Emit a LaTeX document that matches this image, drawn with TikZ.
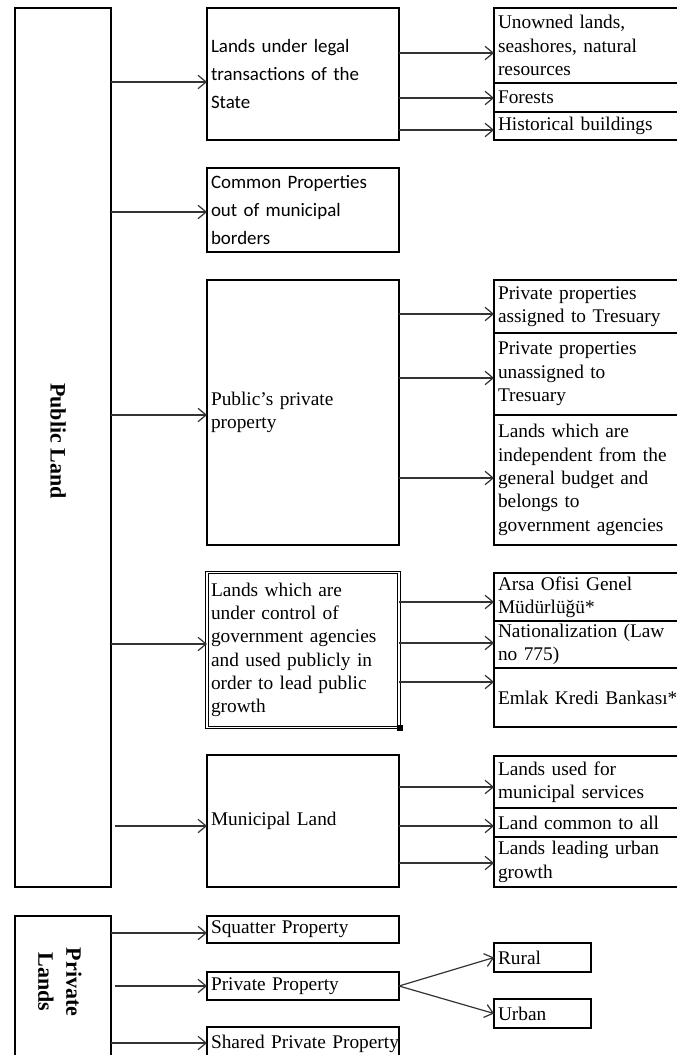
\documentclass[tikz,border=0pt]{standalone}
\usepackage{fontspec}
\setmainfont{Liberation Serif}
\newfontfamily\calibrifont{Carlito}
\usetikzlibrary{arrows.meta, positioning}

\begin{document}
\begin{tikzpicture}[
    x=0.75pt, y=-0.75pt,
    box/.style={
        rectangle, draw=black, line width=1.1pt, outer sep=0pt,
        inner xsep=3pt, inner ysep=1pt, align=left,
        font=\fontsize{14.5}{17.5}\selectfont
    },
    midbox/.style={box, text width=138pt},
    subbox/.style={box, text width=144pt},
    smallbox/.style={box, text width=66.75pt},
    sansbox/.style={midbox, font=\fontsize{14.2}{21}\selectfont\calibrifont},
    dblbox/.style={midbox, double, line width=0.6pt, double distance=1.2pt},
    sidelabel/.style={rotate=-90, align=center, font=\fontsize{16.5}{21}\selectfont\bfseries},
    arrow/.style={-{Straight Barb[length=6pt, width=10pt]}, line width=0.9pt, draw=black!80}
]
\useasboundingbox (0,0) rectangle (677,1055);
\clip (0,0) rectangle (677,1055);

% Public land column
\node[box, minimum width=72pt, minimum height=659.25pt, anchor=north west] (pub) at (15,8) {};
\node[sidelabel] (publbl) at (58,441) {Public Land};

\node[sansbox, minimum height=99pt, anchor=north west] (legal) at (207,8) {Lands under legal\\transactions of the\\State};
\node[sansbox, minimum height=63pt, anchor=north west] (common) at (207,168) {Common Properties\\out of municipal\\borders};
\node[midbox, minimum height=198.75pt, anchor=north west] (pubpriv) at (207,280) {Public's private\\property};
\node[dblbox, minimum height=116.25pt, anchor=north west] (gov) at (207,572.5) {Lands which are\\under control of\\government agencies\\and used publicly in\\order to lead public\\growth};
\node[midbox, minimum height=99pt, anchor=north west] (muni) at (207,755) {Municipal Land};
\fill (397,725) rectangle (403,731);

\draw[arrow] (pub.east |- 0,82) -- (legal.west |- 0,82);
\draw[arrow] (pub.east |- 0,212) -- (common.west |- 0,212);
\draw[arrow] (pub.east |- 0,415) -- (pubpriv.west |- 0,415);
\draw[arrow] (pub.east |- 0,644) -- (gov.west |- 0,644);
\draw[arrow, shorten <=3pt] (pub.east |- 0,826) -- (muni.west |- 0,826);

% Sub categories
\node[subbox, minimum height=56.25pt, anchor=north west] (unowned) at (494,8) {Unowned lands,\\seashores, natural\\resources};
\node[subbox, minimum height=21.75pt, below=0pt of unowned] (forests) {Forests};
\node[subbox, minimum height=21pt, below=0pt of forests] (hist) {Historical buildings};

\draw[arrow] (legal.east |- 0,53) -- (unowned.west |- 0,53);
\draw[arrow] (legal.east |- 0,98) -- (forests.west |- 0,98);
\draw[arrow] (legal.east |- 0,130) -- (hist.west |- 0,130);

\node[subbox, minimum height=39.75pt, anchor=north west] (assigned) at (494,280) {Private properties\\assigned to Tresuary};
\node[subbox, minimum height=61.5pt, below=0pt of assigned] (unassigned) {Private properties\\unassigned to\\Tresuary};
\node[subbox, minimum height=97.5pt, below=0pt of unassigned] (indep) {Lands which are\\independent from the\\general budget and\\belongs to\\government agencies};

\draw[arrow] (pubpriv.east |- 0,314) -- (assigned.west |- 0,314);
\draw[arrow] (pubpriv.east |- 0,378) -- (unassigned.west |- 0,378);
\draw[arrow] (pubpriv.east |- 0,478) -- (indep.west |- 0,478);

\node[subbox, minimum height=36pt, anchor=north west] (arsa) at (494,573) {Arsa Ofisi Genel\\Müdürlüğü*};
\node[subbox, minimum height=35.25pt, below=0pt of arsa] (nation) {Nationalization (Law\\no 775)};
\node[subbox, minimum height=44.25pt, below=0pt of nation] (emlak) {Emlak Kredi Bankası**};

\draw[arrow] (gov.east |- 0,602) -- (arsa.west |- 0,602);
\draw[arrow] (gov.east |- 0,643) -- (nation.west |- 0,643);
\draw[arrow] (gov.east |- 0,682) -- (emlak.west |- 0,682);

\node[subbox, minimum height=39pt, anchor=north west] (services) at (494,756) {Lands used for\\municipal services};
\node[subbox, minimum height=21.75pt, below=0pt of services] (commonall) {Land common to all};
\node[subbox, minimum height=37.5pt, below=0pt of commonall] (urbangrowth) {Lands leading urban\\growth};

\draw[arrow] (muni.east |- 0,787) -- (services.west |- 0,787);
\draw[arrow] (muni.east |- 0,826) -- (commonall.west |- 0,826);
\draw[arrow] (muni.east |- 0,863) -- (urbangrowth.west |- 0,863);

% Private lands
\node[box, minimum width=72pt, minimum height=109.5pt, anchor=north west] (priv) at (15,916) {};
\node[sidelabel] (privlbl) at (60,982) {Private\\Lands};

\node[midbox, minimum height=20.25pt, anchor=north west] (squatter) at (207,916) {Squatter Property};
\node[midbox, minimum height=21pt, anchor=north west] (privprop) at (207,972) {Private Property};
\node[midbox, minimum height=25pt, anchor=north west] (shared) at (207,1027) {\mbox{Shared Private Property}};

\node[smallbox, minimum height=21.75pt, anchor=north west] (rural) at (494,943) {Rural};
\node[smallbox, minimum height=21.75pt, anchor=north west] (urban) at (494,999) {Urban};

\draw[arrow] (priv.east |- 0,933) -- (squatter.west |- 0,933);
\draw[arrow, shorten <=3pt] (priv.east |- 0,986) -- (privprop.west |- 0,986);
\draw[arrow] (priv.east |- 0,1043) -- (shared.west |- 0,1043);
\draw[arrow] (privprop.east) -- (rural.west);
\draw[arrow] (privprop.east) -- (urban.west);

\end{tikzpicture}
\end{document}
